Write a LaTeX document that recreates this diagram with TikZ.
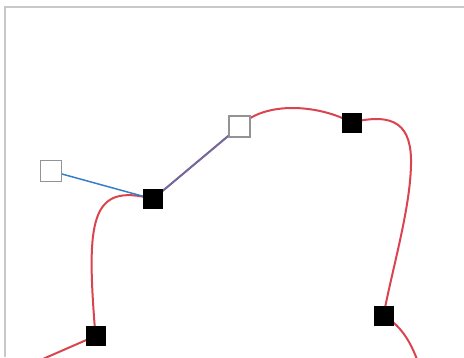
\documentclass[tikz,border=0pt]{standalone}
\usepackage{xcolor}
\definecolor{curvered}{RGB}{218,68,78}
\definecolor{handleblue}{RGB}{52,128,200}
\definecolor{framegray}{RGB}{200,200,200}

\begin{document}
\begin{tikzpicture}[x=1pt, y=-1pt,
  knot/.style={draw=none, fill=black, minimum size=20pt, inner sep=0pt},
  ctrl/.style={draw=gray!85, fill=white, line width=1.2pt, minimum size=21pt, inner sep=0pt},
  handle/.style={draw=handleblue, line width=1.5pt},
  spline/.style={draw=curvered, line width=2pt}]
  \useasboundingbox (0,0) rectangle (464,357);
  \draw[framegray, line width=2pt] (5,357) -- (5,7) -- (464,7);
  \coordinate (S) at (36,362);
  \coordinate (T) at (418,362);
  \coordinate (M) at (411,165);
  \coordinate (A) at (51,171);
  \coordinate (B) at (153,199);
  \coordinate (C) at (239.5,126.5);
  \coordinate (D) at (351.5,122.5);
  \coordinate (E) at (383.5,315.5);
  \coordinate (F) at (95.5,336);
  \draw[spline] (S) -- (F) .. controls (86,220) and (90,182) .. (B) -- (C)
    .. controls (265,100) and (320,105) .. (D)
    .. controls (395,112) and (412,125) .. (M)
    .. controls (410,210) and (392,270) .. (E)
    .. controls (400,325) and (410,340) .. (T);
  \draw[handle] (A) -- (B);
  \draw[handle, draw opacity=0.8] (B) -- (C);
  \node[ctrl] (a) at (A) {};
  \node[ctrl] (c) at (C) {};
  \node[knot] (b) at (B) {};
  \node[knot] (d) at (D) {};
  \node[knot] (e) at (E) {};
  \node[knot] (f) at (F) {};
\end{tikzpicture}
\end{document}
